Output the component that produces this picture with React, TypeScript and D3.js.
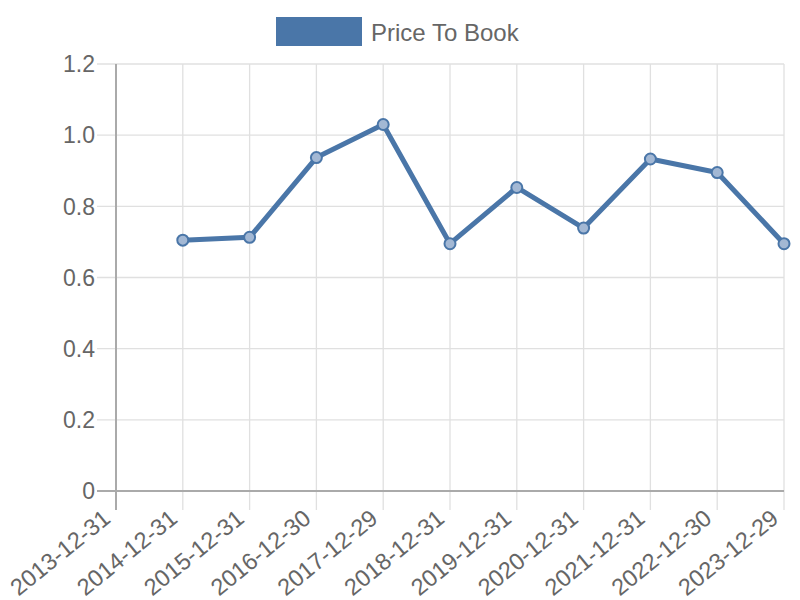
import React from "react";
import * as d3 from "d3";

const categories = ["2013-12-31","2014-12-31","2015-12-31","2016-12-30","2017-12-29","2018-12-31","2019-12-31","2020-12-31","2021-12-31","2022-12-30","2023-12-29"];
const values: (number | null)[] = [null, 0.705, 0.713, 0.937, 1.03, 0.695, 0.853, 0.739, 0.933, 0.895, 0.695];
const yTicks = [0, 0.2, 0.4, 0.6, 0.8, 1.0, 1.2];
const seriesName = "Price To Book";

const W = 800, H = 600;
const left = 116, right = 784, top = 64, bottom = 491;
const color = "#4a76a8";
const font = "'Liberation Sans', Arial, sans-serif";

export default function App() {
  const x = d3.scalePoint<string>().domain(categories).range([left, right]);
  const y = d3.scaleLinear().domain([0, 1.2]).range([bottom, top]);
  const pts = categories.map((c, i) => ({ c, v: values[i] })).filter(d => d.v !== null) as { c: string; v: number }[];
  const line = d3.line<{ c: string; v: number }>().x(d => x(d.c)!).y(d => y(d.v));
  const fmt = (t: number) => (t === 0 ? "0" : t.toFixed(1));
  return (
    <svg width={W} height={H} style={{ position: "absolute", left: 0, top: 0 }} fontFamily={font}>
      {/* legend */}
      <rect x={276} y={17} width={86} height={29} fill={color} />
      <text x={371} y={40.5} fontSize={24} fill="#666">{seriesName}</text>
      {/* horizontal grid */}
      {yTicks.map(t => (
        <line key={"h" + t} x1={left - 19} x2={right} y1={y(t)} y2={y(t)} stroke={t === 0 ? "#aaa" : "#e0e0e0"} strokeWidth={t === 0 ? 2 : 1.3} />
      ))}
      {/* vertical grid */}
      {categories.map((c, i) => (
        <line key={"v" + c} x1={x(c)} x2={x(c)} y1={top} y2={bottom + 19} stroke={i === 0 ? "#aaa" : "#e0e0e0"} strokeWidth={i === 0 ? 2 : 1.3} />
      ))}
      <line x1={left} x2={right} y1={bottom} y2={bottom} stroke="#aaa" strokeWidth={2} />
      <line x1={left} x2={left} y1={top} y2={bottom} stroke="#aaa" strokeWidth={2} />
      {/* y labels */}
      {yTicks.map(t => (
        <text key={"yl" + t} x={95} y={y(t)} dy="0.36em" textAnchor="end" fontSize={23} fill="#666">{fmt(t)}</text>
      ))}
      {/* x labels */}
      {categories.map(c => (
        <text key={"xl" + c} transform={`translate(${x(c)! - 4},${bottom + 30}) rotate(-39)`} textAnchor="end" fontSize={23.5} fill="#666">{c}</text>
      ))}
      <path d={line(pts) || ""} fill="none" stroke={color} strokeWidth={5} strokeLinejoin="round" />
      {pts.map(d => (
        <circle key={"p" + d.c} cx={x(d.c)} cy={y(d.v)} r={5.5} fill="#a3b8d4" stroke={color} strokeWidth={2} />
      ))}
    </svg>
  );
}
